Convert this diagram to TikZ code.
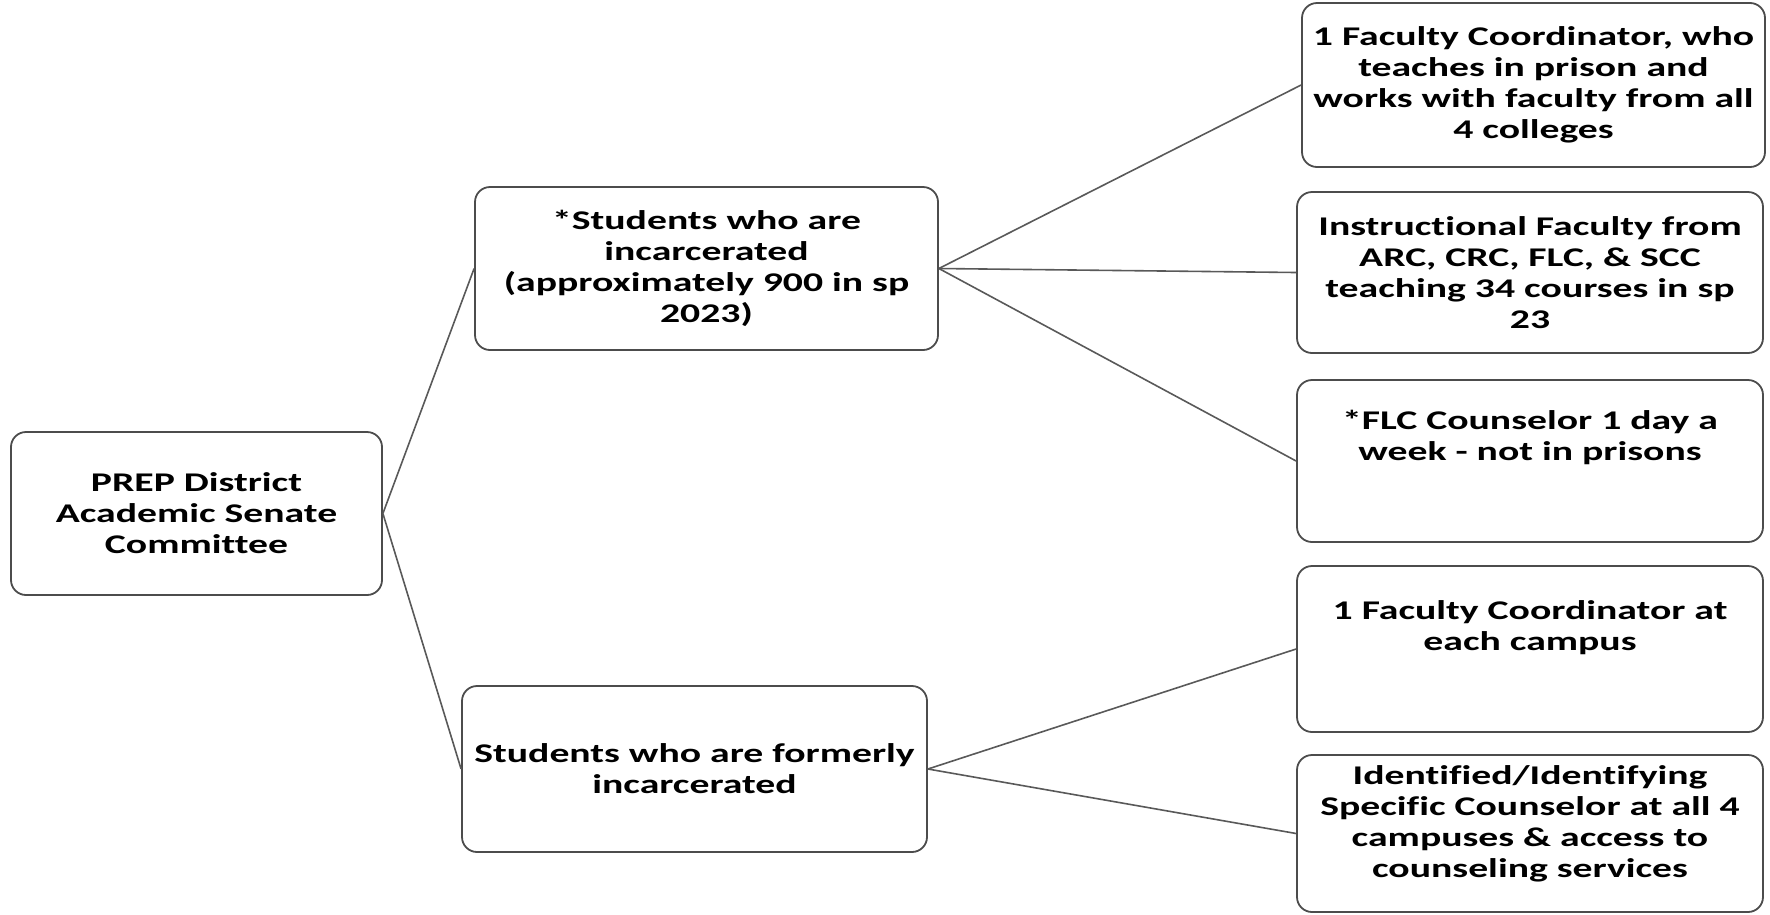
\documentclass[tikz,border=0pt]{standalone}
\usepackage{fontspec}
\setmainfont{Carlito}[FakeStretch=1.47,Ligatures=NoCommon]
\begin{document}
\begin{tikzpicture}[x=1pt,y=-1pt,
  box/.style={draw=black!70, line width=1.8pt, rounded corners=15pt, fill=white,
    inner sep=0pt, align=center, font=\fontsize{27}{31}\selectfont\bfseries},
  lbl/.style={inner sep=0pt, align=center, font=\fontsize{27}{31}\selectfont\bfseries},
  link/.style={draw=black!65, line width=1.6pt}]
\useasboundingbox (0,0) rectangle (1770,914);
\node[box, minimum width=371pt, minimum height=163pt] (a) at (196.5,513.5)
  {PREP District\\Academic Senate\\Committee};
\node[box, minimum width=463pt, minimum height=163pt] (b) at (706.5,268.5)
  {*Students who are\\incarcerated\\(approximately 900 in sp\\2023)};
\node[box, minimum width=465pt, minimum height=166pt] (c) at (694.5,769)
  {Students who are formerly\\incarcerated};
\node[box, minimum width=463pt, minimum height=164pt] (r1) at (1533.5,85)
  {1 Faculty Coordinator, who\\teaches in prison and\\works with faculty from all\\4 colleges};
\node[box, minimum width=466pt, minimum height=161pt] (r2) at (1530,272.5)
  {Instructional Faculty from\\ARC, CRC, FLC, \& SCC\\teaching 34 courses in sp\\23};
\node[box, minimum width=466pt, minimum height=162pt] (r3) at (1530,461) {};
\node[lbl] (r3t) at (1530,437) {*FLC Counselor 1 day a\\week - not in prisons};
\node[box, minimum width=466pt, minimum height=166pt] (r4) at (1530,649) {};
\node[lbl] (r4t) at (1530,628) {1 Faculty Coordinator at\\each campus};
\node[box, minimum width=466pt, minimum height=157pt] (r5) at (1530,833.5) {};
\node[lbl] (r5t) at (1530,824) {Identified/Identifying\\Specific Counselor at all 4\\campuses \& access to\\counseling services};
\draw[link] (a.east) -- (b.west);
\draw[link] (a.east) -- (c.west);
\draw[link] (b.east) -- (r1.west);
\draw[link] (b.east) -- (r2.west);
\draw[link] (b.east) -- (r3.west);
\draw[link] (c.east) -- (r4.west);
\draw[link] (c.east) -- (r5.west);
\end{tikzpicture}
\end{document}
